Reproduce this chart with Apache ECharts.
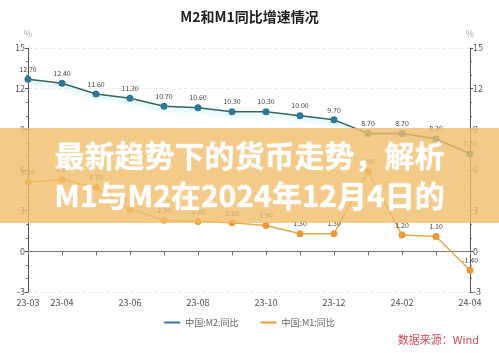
<!DOCTYPE html>
<html><head><meta charset="utf-8">
<script src="https://cdn.jsdelivr.net/npm/echarts@6/dist/echarts.min.js"></script>
<style>html,body{margin:0;padding:0;background:#fff}#c{width:499px;height:353px}</style>
</head><body><div id="c"></div>
<script>
const categories = ['23-03','23-04','23-05','23-06','23-07','23-08','23-09','23-10','23-11','23-12','24-01','24-02','24-03','24-04'];
const m2Values = [12.7,12.4,11.6,11.3,10.7,10.6,10.3,10.3,10.0,9.7,8.7,8.7,8.3,7.2];
const m1Values = [5.1,5.3,4.7,3.1,2.3,2.2,2.1,1.9,1.3,1.3,5.9,1.2,1.1,-1.4];
const seriesNames = ['中国:M2:同比','中国:M1:同比'];
const titleText = 'M2和M1同比增速情况';
const bannerLine1 = '最新趋势下的货币走势，解析';
const bannerLine2 = 'M1与M2在2024年12月4日的';
const sourceText = '数据来源：Wind';

const font = '"Noto Sans CJK SC","Noto Sans",sans-serif';
const chart = echarts.init(document.getElementById('c'));
const yAxisBase = {
  type:'value', min:-3, max:15, interval:3,
  name:'%', nameGap:10,
  nameTextStyle:{color:'#aaa',fontSize:9,fontFamily:font},
  axisLine:{show:true,lineStyle:{color:'#555'}},
  axisTick:{show:true,length:3,lineStyle:{color:'#555'}},
  minorTick:{show:true,splitNumber:3,length:2,lineStyle:{color:'#777'}},
  axisLabel:{color:'#555',fontSize:9,margin:3,fontFamily:font},
  splitLine:{show:true,lineStyle:{color:'#eee',type:'dashed'}}
};
chart.setOption({
  animation:false,
  title:{text:titleText,left:'center',top:5,textStyle:{fontSize:14,fontWeight:'bold',color:'#222',fontFamily:font}},
  grid:{left:28,right:29,top:48,bottom:61},
  legend:{bottom:21,left:'center',itemWidth:16,itemHeight:2,itemGap:22,icon:'rect',
    textStyle:{color:'#666',fontSize:9,fontFamily:font},data:seriesNames},
  xAxis:{type:'category',data:categories,boundaryGap:false,
    axisLine:{lineStyle:{color:'#777'}},
    axisTick:{show:true,interval:0,length:4,lineStyle:{color:'#777'}},
    axisLabel:{interval:(i)=>i===0||i%2===1,color:'#555',fontSize:9,margin:6,fontFamily:font}},
  yAxis:[Object.assign({},yAxisBase,{position:'left'}),Object.assign({},yAxisBase,{position:'right',splitLine:{show:false}})],
  series:[
    {name:seriesNames[0],type:'line',data:m2Values,symbol:'circle',symbolSize:7,
      itemStyle:{color:'#2f7894'},
      lineStyle:{color:'#35645a',width:1.5,shadowColor:'rgba(120,220,235,0.6)',shadowBlur:4,shadowOffsetY:3},
      label:{show:true,position:'top',distance:3,fontSize:7,color:'#444',fontFamily:font,formatter:p=>p.value.toFixed(2)}},
    {name:seriesNames[1],type:'line',data:m1Values,symbol:'circle',symbolSize:7,
      itemStyle:{color:'#eb9a3a'},
      lineStyle:{color:'#e6a84a',width:1.5},
      label:{show:true,position:'top',distance:3,fontSize:7,color:'#444',fontFamily:font,formatter:p=>p.value.toFixed(2)}}
  ],
  graphic:[
    {type:'rect',left:0,top:128,shape:{width:499,height:95},z:100,style:{fill:'rgba(240,190,108,0.8)'}},
    {type:'text',left:'center',top:141,z:101,style:{text:bannerLine1,fill:'#fff',font:'bold 30px '+font,
      textShadowColor:'rgba(255,255,255,0.6)',textShadowBlur:2}},
    {type:'text',left:'center',top:181,z:101,style:{text:bannerLine2,fill:'#fff',font:'bold 30px '+font,
      textShadowColor:'rgba(255,255,255,0.6)',textShadowBlur:2}},
    {type:'text',right:20,bottom:8,z:101,style:{text:sourceText,fill:'#d24a5c',font:'11px '+font}}
  ]
});
</script></body></html>
